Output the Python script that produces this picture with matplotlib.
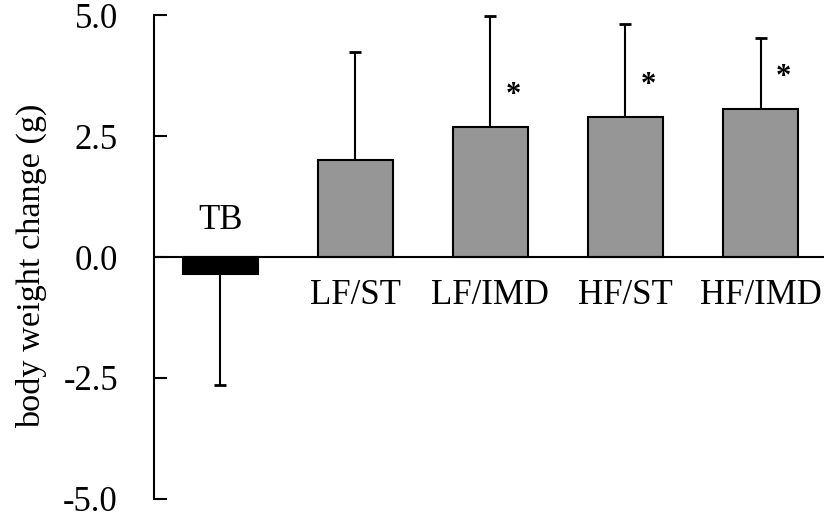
import matplotlib
matplotlib.use("Agg")
import matplotlib.pyplot as plt
import numpy as np

plt.rcParams["font.family"] = ["Liberation Serif", "DejaVu Serif"]

# --- data ---
groups = ["TB", "LF/ST", "LF/IMD", "HF/ST", "HF/IMD"]
means = [-0.36, 2.01, 2.69, 2.89, 3.07]
errors = [2.28, 2.23, 2.30, 1.93, 1.47]
significant = [False, False, True, True, True]
bar_colors = ["black", "#969696", "#969696", "#969696", "#969696"]
yticks = [-5.0, -2.5, 0.0, 2.5, 5.0]

fig = plt.figure(figsize=(8.24, 5.23), dpi=100)
ax = fig.add_axes([0.187, 0.0465, 0.813, 0.924])

x = np.arange(len(groups))
ax.bar(x, means, width=0.556, color=bar_colors, edgecolor="black",
       linewidth=1.5, zorder=2)

# one-sided error bars (away from zero), single cap at the tip
for xi, m, e in zip(x, means, errors):
    tip = m - e if m < 0 else m + e
    ax.vlines(xi, m, tip, color="black", linewidth=1.5, zorder=1)
    ax.plot([xi], [tip], marker="_", markersize=8, markeredgewidth=2,
            color="black", zorder=1)

# significance stars
for xi, m, sig in zip(x, means, significant):
    if sig:
        ax.text(xi + 0.17, m + 0.65, "*", ha="center", va="center",
                fontsize=22, fontweight="bold")

# group labels: above the zero line for negative bars, below otherwise
for xi, m, g in zip(x, means, groups):
    if m < 0:
        ax.text(xi, 0.75, g, ha="center", va="center", fontsize=25)
    else:
        ax.text(xi, -0.8, g, ha="center", va="center", fontsize=25)

ax.axhline(0, color="black", linewidth=1.5, zorder=3)

ax.set_xlim(-0.49, 4.47)
ax.set_ylim(-5.0, 5.0)
ax.set_yticks(yticks)
ax.set_yticklabels([f"{t:.1f}" for t in yticks], fontsize=25)
ax.tick_params(axis="y", direction="in", length=9, width=1.5, pad=26)
ax.set_xticks([])

for side in ["top", "right", "bottom"]:
    ax.spines[side].set_visible(False)
ax.spines["left"].set_linewidth(1.5)

ax.set_ylabel("body weight change (g)", fontsize=24.7)
ax.yaxis.set_label_coords(-0.16, 0.482)

fig.savefig("out.png", dpi=100)
